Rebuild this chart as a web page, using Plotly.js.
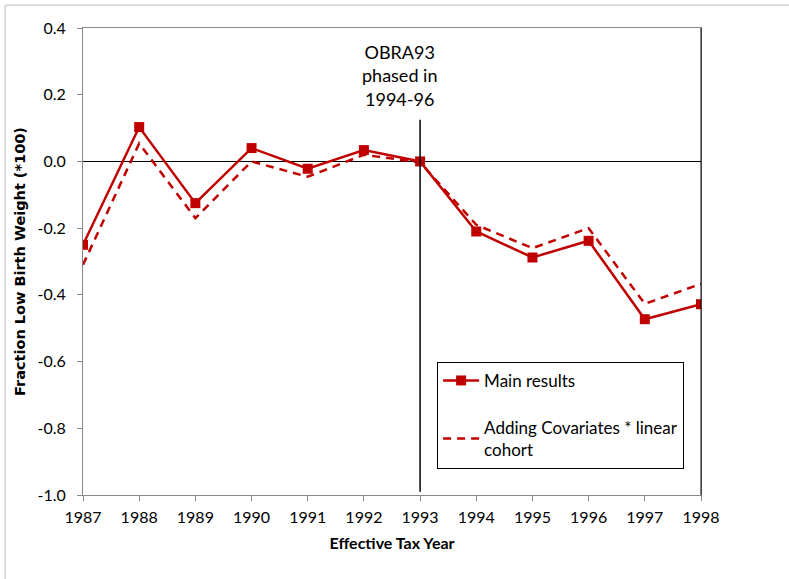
<!DOCTYPE html>
<html>
<head>
<meta charset="utf-8">
<script src="https://cdn.plot.ly/plotly-3.0.1.min.js"></script>
<style>html,body{margin:0;padding:0;background:#fff;}#chart{width:789px;height:579px;}</style>
</head>
<body>
<div id="chart"></div>
<script>
const years = [1987, 1988, 1989, 1990, 1991, 1992, 1993, 1994, 1995, 1996, 1997, 1998];
const mainResults = [-0.25, 0.103, -0.125, 0.04, -0.022, 0.034, 0.0, -0.21, -0.288, -0.238, -0.473, -0.428];
const covariates = [-0.31, 0.054, -0.17, 0.0, -0.046, 0.02, -0.003, -0.19, -0.26, -0.2, -0.427, -0.367];
const yTicks = [-1.0, -0.8, -0.6, -0.4, -0.2, 0.0, 0.2, 0.4];
const yTickText = ['-1.0', '-0.8', '-0.6', '-0.4', '-0.2', '0.0', '0.2', '0.4'];
const reformYear = 1993;
const reformLabel = "OBRA93<br>phased in<br>1994-96";

const red = '#C00000';
const font = "Lato, 'Open Sans', sans-serif";

const traces = [
  {
    x: years, y: mainResults, type: 'scatter', mode: 'lines+markers',
    name: 'Main results', legendgroup: 'a',
    line: {color: red, width: 2.5},
    marker: {symbol: 'square', size: 10, color: red}
  },
  {
    x: years, y: covariates, type: 'scatter', mode: 'lines',
    name: 'Adding Covariates * linear<br>cohort', legendgroup: 'b',
    line: {color: red, width: 2.5, dash: '8px,6px'}
  }
];

const layout = {
  width: 789, height: 579,
  margin: {l: 83, r: 88, t: 28, b: 84},
  paper_bgcolor: '#fff', plot_bgcolor: '#fff',
  font: {family: font, size: 16, color: '#000'},
  showlegend: true,
  legend: {
    x: 0.573, y: 0.285, xanchor: 'left', yanchor: 'top',
    bordercolor: '#000', borderwidth: 1, bgcolor: '#fff',
    font: {family: font, size: 17, color: '#000'},
    traceorder: 'grouped', tracegroupgap: 22,
    itemwidth: 36
  },
  xaxis: {
    range: [1987, 1998], tickvals: years, ticktext: years.map(String),
    showgrid: false, zeroline: false,
    showline: true, linecolor: '#888', linewidth: 1, mirror: true,
    ticks: 'outside', ticklen: 5, tickcolor: '#888',
    ticklabelstandoff: 3,
    tickfont: {family: font, size: 16},
    title: {text: '<b>Effective Tax Year</b>', font: {family: font, size: 16}, standoff: 12}
  },
  yaxis: {
    range: [-1.0, 0.4], tickvals: yTicks, ticktext: yTickText,
    showgrid: false,
    zeroline: true, zerolinecolor: '#000', zerolinewidth: 1,
    showline: true, linecolor: '#888', linewidth: 1, mirror: true,
    ticks: 'outside', ticklen: 5, tickcolor: '#888',
    ticklabelstandoff: 8,
    tickfont: {family: font, size: 16},
    title: {text: '<b>Fraction Low Birth Weight (*100)</b>', font: {family: "'DejaVu Sans', sans-serif", size: 14.5}, standoff: 8}
  },
  shapes: [
    {type: 'line', xref: 'x', yref: 'y', x0: reformYear, x1: reformYear, y0: -0.99, y1: 0.125,
     line: {color: '#000', width: 1.5}},
    {type: 'line', xref: 'paper', yref: 'paper', x0: 1, x1: 1, y0: 0, y1: 1,
     line: {color: '#000', width: 1}},
    {type: 'rect', xref: 'paper', yref: 'paper', x0: -0.126, x1: 1.2, y0: -0.3, y1: 1.049,
     line: {color: '#bbb', width: 1}, fillcolor: 'rgba(0,0,0,0)', layer: 'below'}
  ],
  annotations: [
    {x: reformYear, y: 0.4, xref: 'x', yref: 'y', xshift: -21, yshift: -11,
     text: reformLabel, showarrow: false, xanchor: 'center', yanchor: 'top',
     font: {family: font, size: 18, color: '#000'}, align: 'center'}
  ]
};

Plotly.newPlot('chart', traces, layout, {displayModeBar: false, staticPlot: true});
</script>
</body>
</html>
